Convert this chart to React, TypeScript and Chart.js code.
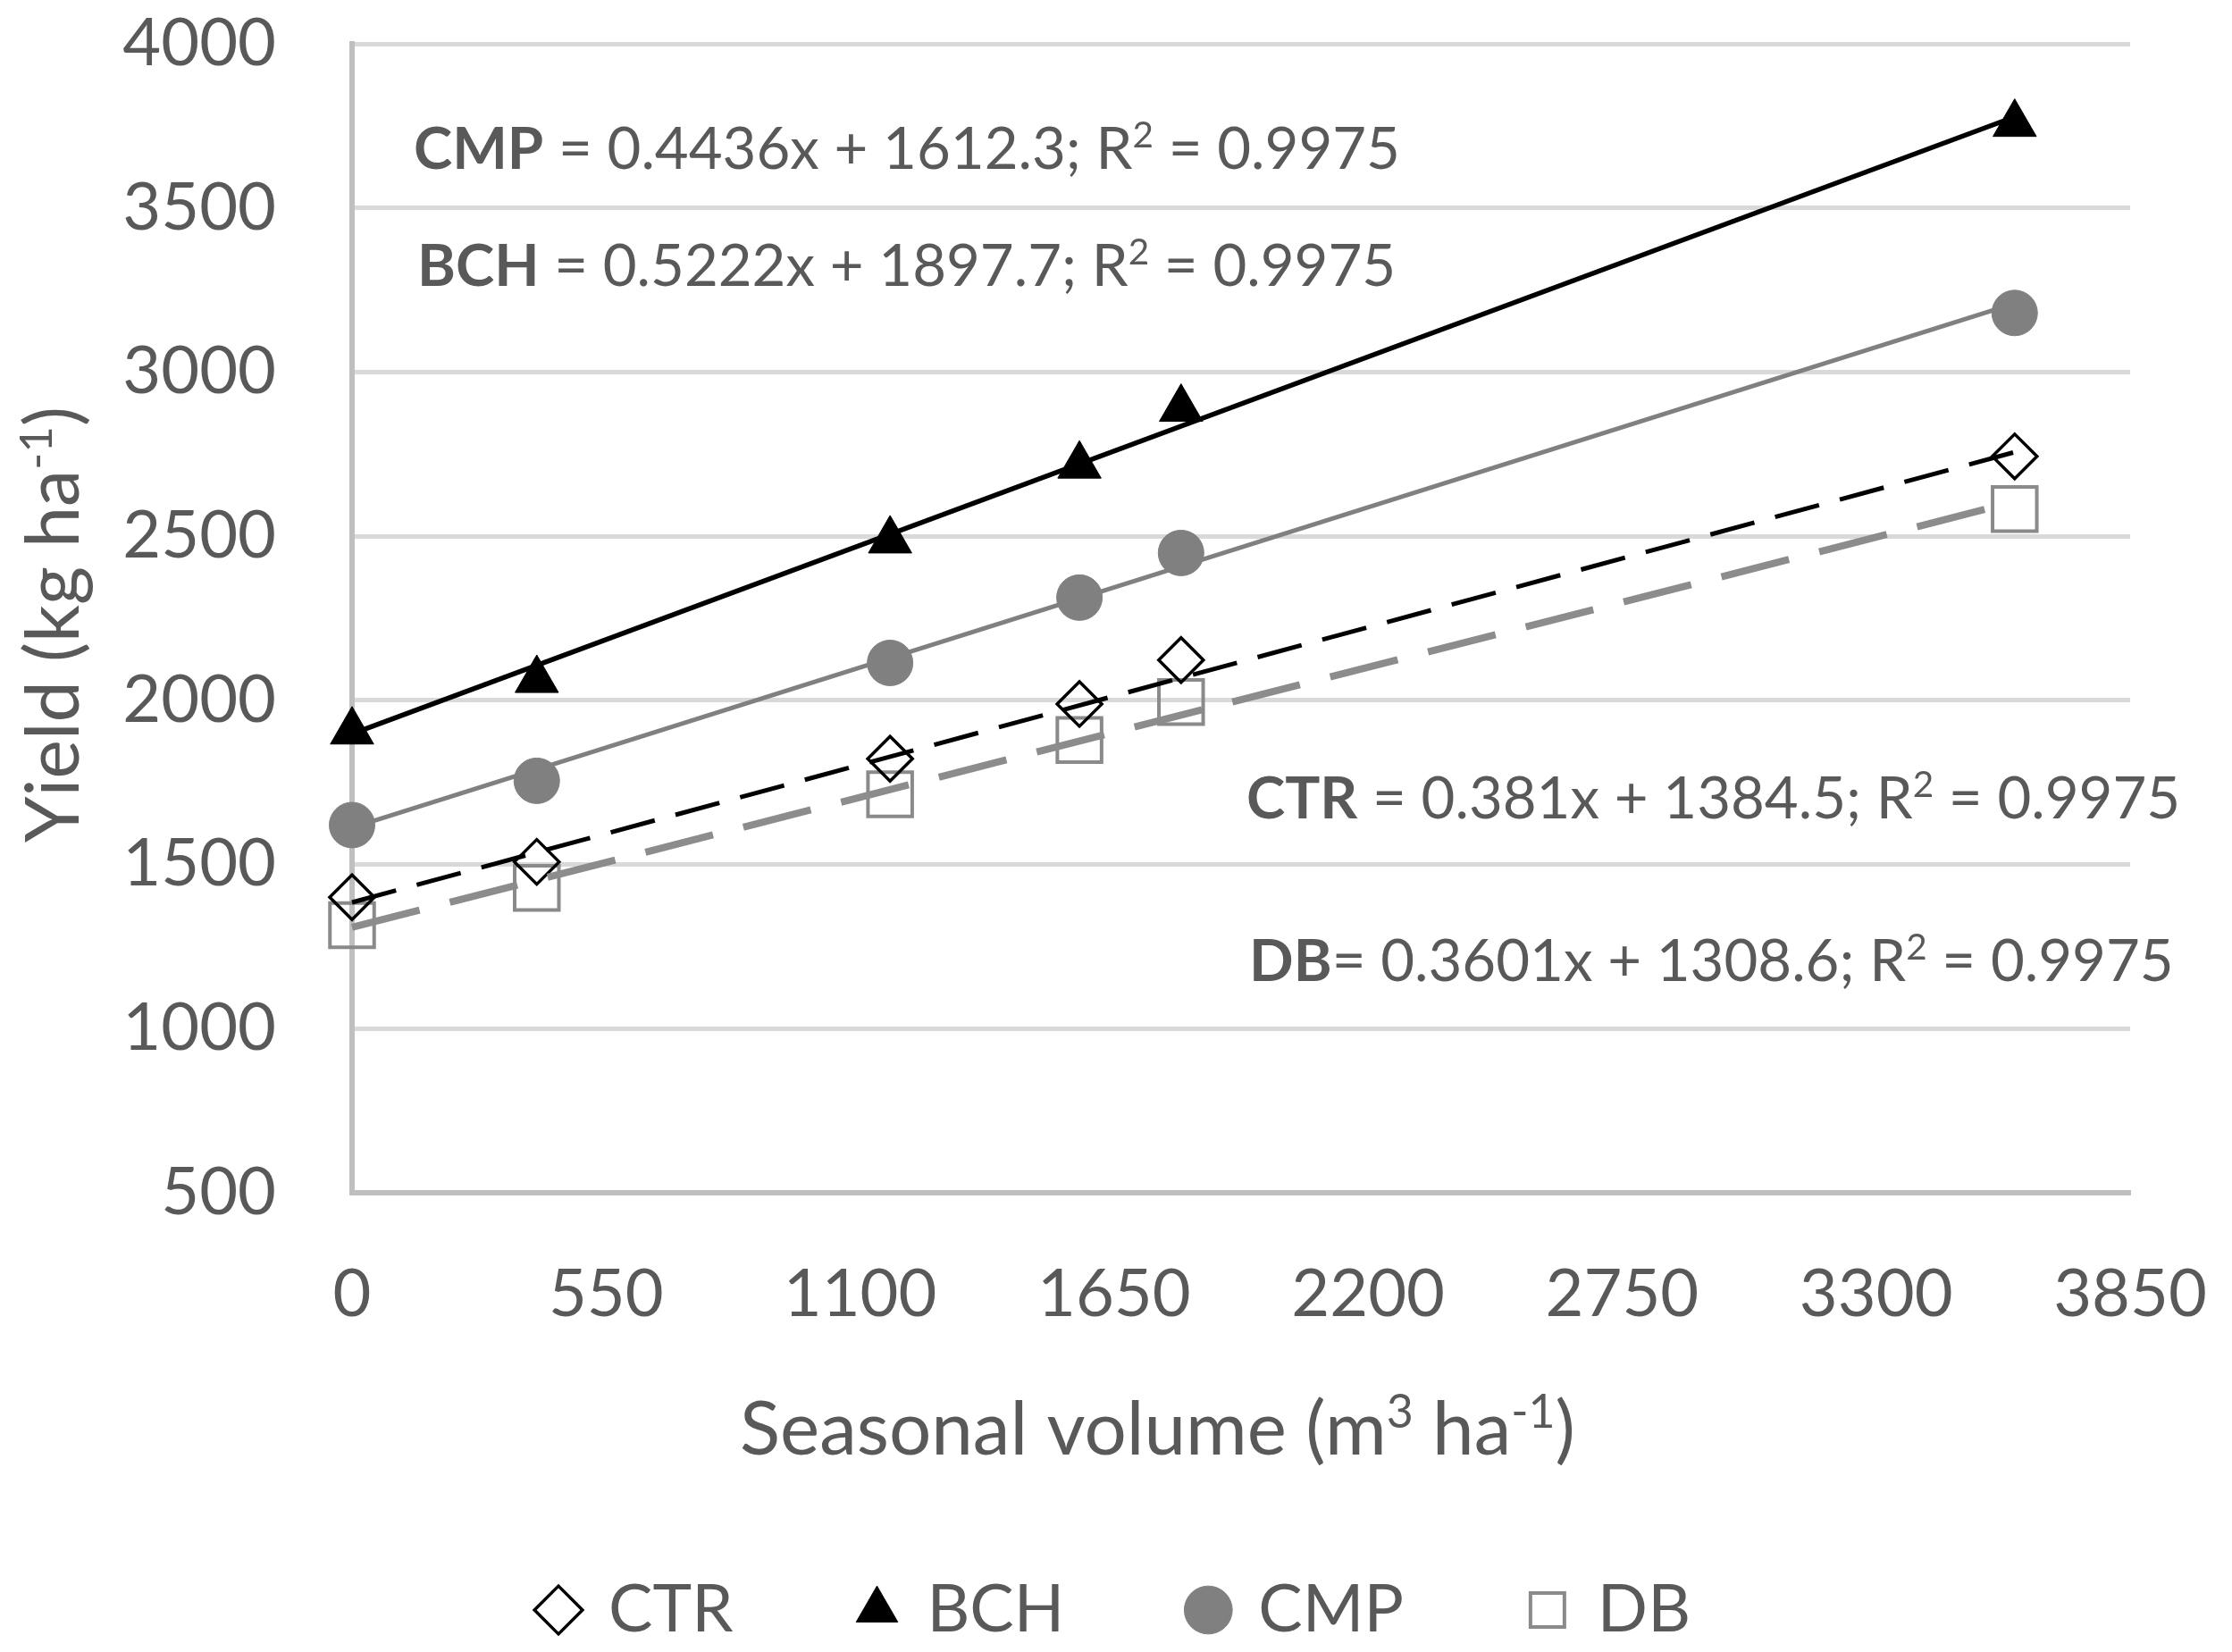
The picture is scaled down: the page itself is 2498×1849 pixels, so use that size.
import React, { useEffect, useRef } from 'react';
import { Chart, registerables } from 'chart.js';

Chart.register(...registerables);

const FONT = 'Lato, "Noto Sans", "DejaVu Sans", sans-serif';
const TEXT = '#595959';

// ---- data ----
const volumes = [0, 400, 1165, 1575, 1795, 3600];
const ctrYield = [1400, 1508, 1822, 1989, 2123, 2743];
const bchYield = [1905, 2062, 2487, 2715, 2888, 3756];
const cmpYield = [1620, 1755, 2114, 2313, 2449, 3180];
const dbYield = [1315, 1429, 1714, 1879, 1995, 2583];

// trend line end points (x range of the data)
const trendX = [0, 3600];
const ctrTrend = [1384.5, 2756.1];
const bchTrend = [1897.7, 3777.6];
const cmpTrend = [1612.3, 3209.3];
const dbTrend = [1308.6, 2605.0];

const xTicks = [0, 550, 1100, 1650, 2200, 2750, 3300, 3850];
const yTicks = [500, 1000, 1500, 2000, 2500, 3000, 3500, 4000];

const seriesNames = ['CTR', 'BCH', 'CMP', 'DB'];
const equationNames = ['CMP', 'BCH', 'CTR', 'DB'];
const equationBodies = [' = 0.4436x + 1612.3; R', ' = 0.5222x + 1897.7; R', ' = 0.381x + 1384.5; R', '= 0.3601x + 1308.6; R'];
const equationR2 = [' = 0.9975', ' = 0.9975', ' = 0.9975', ' = 0.9975'];

type Seg = { t: string; bold?: boolean; sup?: boolean };

const fontFor = (size: number, s: Seg) =>
  `${s.bold ? 'bold ' : ''}${s.sup ? size * 0.62 : size}px ${FONT}`;

function segWidth(ctx: CanvasRenderingContext2D, segs: Seg[], size: number) {
  let w = 0;
  for (const s of segs) {
    ctx.font = fontFor(size, s);
    w += ctx.measureText(s.t).width;
  }
  return w;
}

function fitSize(ctx: CanvasRenderingContext2D, segs: Seg[], target: number) {
  return (100 * target) / segWidth(ctx, segs, 100);
}

function drawSegs(ctx: CanvasRenderingContext2D, segs: Seg[], x: number, y: number, size: number) {
  ctx.textAlign = 'left';
  ctx.textBaseline = 'alphabetic';
  let cx = x;
  for (const s of segs) {
    ctx.font = fontFor(size, s);
    ctx.fillText(s.t, cx, s.sup ? y - size * 0.36 : y);
    cx += ctx.measureText(s.t).width;
  }
}

const textPlugin = {
  id: 'chartTexts',
  afterDraw(chart: any) {
    const ctx: CanvasRenderingContext2D = chart.ctx;
    ctx.save();
    ctx.fillStyle = TEXT;
    const eqs: Seg[][] = equationNames.map((n, i) => [
      { t: n, bold: true },
      { t: equationBodies[i] },
      { t: '2', sup: true },
      { t: equationR2[i] },
    ]);
    const boxes = [
      { x: 463, y: 189, w: 1106 },
      { x: 467, y: 320, w: 1091 },
      { x: 1395, y: 916, w: 1047 },
      { x: 1398, y: 1098, w: 1036 },
    ];
    const sizes = eqs.map((s, i) => fitSize(ctx, s, boxes[i].w));
    const eqSize = sizes.reduce((a, b) => a + b, 0) / sizes.length;
    eqs.forEach((s, i) => drawSegs(ctx, s, boxes[i].x, boxes[i].y, eqSize));

    const xt: Seg[] = [{ t: 'Seasonal volume (m' }, { t: '3', sup: true }, { t: ' ha' }, { t: '-1', sup: true }, { t: ')' }];
    const xs = fitSize(ctx, xt, 935);
    drawSegs(ctx, xt, 828, 1628, xs);

    const yt: Seg[] = [{ t: 'Yield (kg ha' }, { t: '-1', sup: true }, { t: ')' }];
    const ys = fitSize(ctx, yt, 488);
    ctx.translate(88, 699);
    ctx.rotate(-Math.PI / 2);
    drawSegs(ctx, yt, -244, 0, ys);
    ctx.restore();
  },
};

const pts = (ys: number[]) => volumes.map((x, i) => ({ x, y: ys[i] }));
const trend = (ys: number[]) => trendX.map((x, i) => ({ x, y: ys[i] }));

export default function App() {
  const ref = useRef<HTMLCanvasElement>(null);

  useEffect(() => {
    document.body.style.margin = '0';
    const none = 'rgba(0,0,0,0)';
    const chart = new Chart(ref.current!, {
      type: 'scatter',
      data: {
        datasets: [
          {
            label: seriesNames[0], data: pts(ctrYield), order: 1,
            pointStyle: 'rectRot', pointRadius: 25, pointBackgroundColor: none,
            pointBorderColor: '#000', pointBorderWidth: 3.5, backgroundColor: none, borderColor: '#000',
          },
          {
            label: seriesNames[1], data: pts(bchYield), order: 2,
            pointStyle: 'triangle', pointRadius: 28, pointBackgroundColor: '#000',
            pointBorderColor: '#000', pointBorderWidth: 1, backgroundColor: '#000', borderColor: '#000',
          },
          {
            label: seriesNames[2], data: pts(cmpYield), order: 3,
            pointStyle: 'circle', pointRadius: 25.5, pointBackgroundColor: '#808080',
            pointBorderColor: '#808080', pointBorderWidth: 1, backgroundColor: '#808080', borderColor: '#808080',
          },
          {
            label: seriesNames[3], data: pts(dbYield), order: 4,
            pointStyle: 'rect', pointRadius: 35, pointBackgroundColor: none,
            pointBorderColor: '#8a8a8a', pointBorderWidth: 4, backgroundColor: none, borderColor: '#8a8a8a',
          },
          {
            label: 'CTR trend', data: trend(ctrTrend), order: 0, showLine: true, pointRadius: 0,
            borderColor: '#000', borderWidth: 5, borderDash: [51, 24], borderCapStyle: 'butt',
          },
          {
            label: 'BCH trend', data: trend(bchTrend), order: 0, showLine: true, pointRadius: 0,
            borderColor: '#000', borderWidth: 5.5,
          },
          {
            label: 'CMP trend', data: trend(cmpTrend), order: 0, showLine: true, pointRadius: 0,
            borderColor: '#808080', borderWidth: 5,
          },
          {
            label: 'DB trend', data: trend(dbTrend), order: 0, showLine: true, pointRadius: 0,
            borderColor: '#8c8c8c', borderWidth: 8, borderDash: [78, 35], borderCapStyle: 'butt',
          },
        ] as any,
      },
      options: {
        responsive: false,
        animation: false,
        devicePixelRatio: 1,
        events: [],
        datasets: { scatter: { clip: false } as any },
        layout: { padding: 0, autoPadding: false },
        plugins: {
          tooltip: { enabled: false },
          legend: {
            position: 'bottom',
            labels: {
              usePointStyle: true,
              boxWidth: 38,
              boxHeight: 38,
              padding: 142,
              color: TEXT,
              font: { family: FONT, size: 74 },
              filter: (item: any) => item.datasetIndex < 4,
            },
          },
        },
        scales: {
          x: {
            type: 'linear',
            min: 0,
            max: 3850,
            afterBuildTicks: (s: any) => { s.ticks = xTicks.map((v) => ({ value: v })); },
            afterFit: (s: any) => {
              const lg = s.chart.legend;
              s.height = s.chart.height - 1335 - (lg ? lg.height : 0);
              s.paddingLeft = 30;
              s.paddingRight = 114;
            },
            grid: { display: false, drawTicks: false },
            border: { display: true, color: '#BFBFBF', width: 6 },
            ticks: {
              color: TEXT, font: { family: FONT, size: 74 }, padding: 70, maxRotation: 0, autoSkip: false,
              callback: (v: any) => String(v),
            },
          },
          y: {
            type: 'linear',
            min: 500,
            max: 4000,
            afterBuildTicks: (s: any) => { s.ticks = yTicks.map((v) => ({ value: v })); },
            afterFit: (s: any) => {
              s.width = 394;
              s.paddingTop = 49;
              s.paddingBottom = 40;
            },
            grid: {
              color: (c: any) => (c.tick && c.tick.value === 500 ? none : '#D9D9D9'),
              lineWidth: 5,
              drawTicks: false,
            },
            border: { display: true, color: '#BFBFBF', width: 6 },
            ticks: {
              color: TEXT, font: { family: FONT, size: 74 }, padding: 85, autoSkip: false,
              callback: (v: any) => String(v),
            },
          },
        },
      },
      plugins: [textPlugin],
    });
    return () => chart.destroy();
  }, []);

  return (
    <div style={{ width: 2498, height: 1849, overflow: 'hidden', background: '#fff' }}>
      <canvas ref={ref} width={2498} height={1849} style={{ display: 'block', width: 2498, height: 1849 }} />
    </div>
  );
}
